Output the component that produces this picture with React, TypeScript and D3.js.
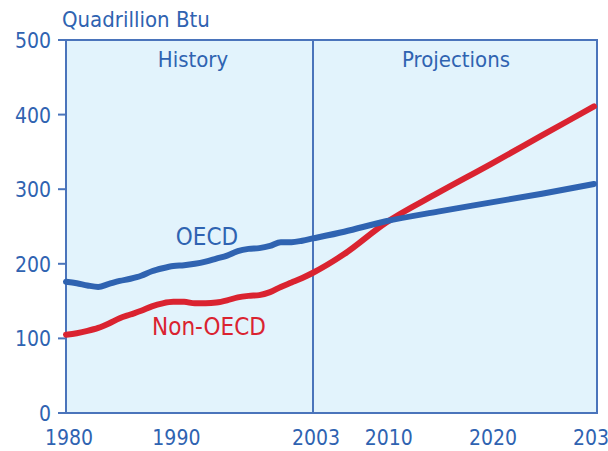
import React from "react";
import * as d3 from "d3";

const histYears = d3.range(1980, 2004);
const oecdHist = [176, 174, 171, 169, 173, 177, 180, 184, 190, 194, 197, 198, 200, 203, 207, 211, 217, 220, 221, 224, 229, 229, 231, 234];
const nonOecdHist = [105, 107, 110, 114, 120, 127, 132, 137, 143, 147, 149, 149, 147, 147, 148, 151, 155, 157, 158, 162, 169, 175, 181, 188];
const projYears = [2006, 2010, 2015, 2020, 2025, 2030];
const oecdProj = [243, 257, 270, 282, 294, 307];
const nonOecdProj = [213, 255, 295, 333, 372, 411];
const xTicks = [1980, 1990, 2003, 2010, 2020, 2030];
const yTicks = [0, 100, 200, 300, 400, 500];

const blue = "#2f63b1";
const frame = "#4a74bb";
const red = "#da2330";
const font = "'DejaVu Sans Condensed', 'DejaVu Sans', sans-serif";

export default function App() {
  const W = 608, H = 451;
  const left = 66, right = 597, top = 40, bottom = 413;
  // history and projection halves are scaled separately, as in the source
  const x = d3.scaleLinear().domain([1980, 2003, 2030]).range([left, 313, right - 3]);
  const y = d3.scaleLinear().domain([0, 500]).range([bottom, top]);

  const oecd = histYears.map((yr, i) => [yr, oecdHist[i]]).concat(projYears.map((yr, i) => [yr, oecdProj[i]]));
  const nonOecd = histYears.map((yr, i) => [yr, nonOecdHist[i]]).concat(projYears.map((yr, i) => [yr, nonOecdProj[i]]));

  const line = d3.line<number[]>()
    .x(d => x(d[0]))
    .y(d => y(d[1]))
    .curve(d3.curveMonotoneX);

  return (
    <svg width={W} height={H} style={{ position: "absolute", left: 0, top: 0 }}>
      <rect x={left} y={top} width={right - left} height={bottom - top} fill="#e2f3fc" stroke={frame} strokeWidth={2} />
      <line x1={x(2003)} x2={x(2003)} y1={top} y2={bottom} stroke={frame} strokeWidth={2} />
      {yTicks.map(t => (
        <g key={t}>
          <line x1={left - 8} x2={left} y1={y(t)} y2={y(t)} stroke={frame} strokeWidth={2} />
          <text x={51} y={y(t) + 8} textAnchor="end" fill={blue} fontFamily={font} fontSize={21}>{t}</text>
        </g>
      ))}
      {xTicks.map(t => (
        <text key={t} x={x(t) + 3} y={445} textAnchor="middle" fill={blue} fontFamily={font} fontSize={21}>{t}</text>
      ))}
      <text x={62} y={27} fill={blue} fontFamily={font} fontSize={22}>Quadrillion Btu</text>
      <text x={193} y={67} textAnchor="middle" fill={blue} fontFamily={font} fontSize={22}>History</text>
      <text x={456} y={67} textAnchor="middle" fill={blue} fontFamily={font} fontSize={22}>Projections</text>
      <path d={line(nonOecd) || ""} fill="none" stroke={red} strokeWidth={6} strokeLinecap="round" strokeLinejoin="round" />
      <path d={line(oecd) || ""} fill="none" stroke={blue} strokeWidth={6} strokeLinecap="round" strokeLinejoin="round" />
      <text x={207} y={245} textAnchor="middle" fill={blue} fontFamily={font} fontSize={24}>OECD</text>
      <text x={209} y={335} textAnchor="middle" fill={red} fontFamily={font} fontSize={24}>Non-OECD</text>
    </svg>
  );
}
